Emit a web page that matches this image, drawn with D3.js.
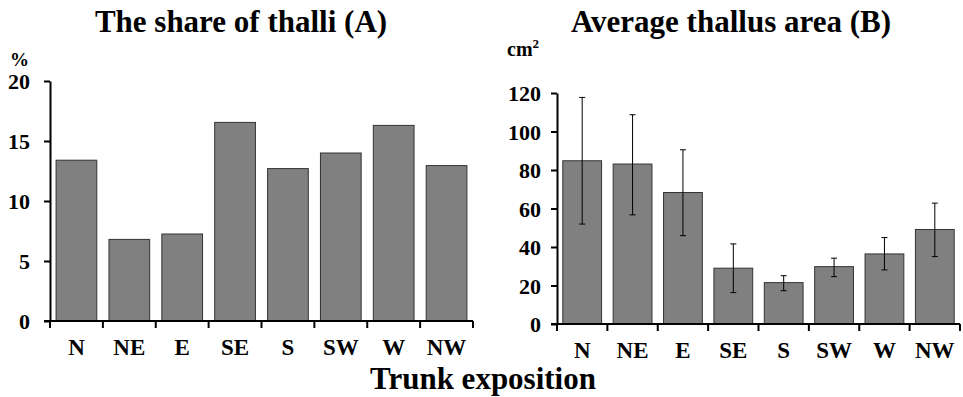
<!DOCTYPE html>
<html lang="en">
<head>
    <meta charset="UTF-8">
    <title>Trunk exposition</title>
    <script src="https://d3js.org/d3.v7.min.js"></script>
    <style>
        body {
            margin: 0;
            background: #fff;
        }
        .bar {
            fill: #808080;
            stroke: #333;
            stroke-width: 1;
        }
    </style>
</head>
<body>
<svg id="chart" width="963" height="397"></svg>

<script>
    const directions = ["N", "NE", "E", "SE", "S", "SW", "W", "NW"];
    const shareValues = [13.4, 6.8, 7.25, 16.55, 12.7, 14.0, 16.3, 12.95];
    const areaValues = [84.8, 83.1, 68.3, 29.0, 21.5, 29.8, 36.4, 49.1];
    const areaUpper = [117.7, 108.7, 90.5, 41.6, 25.1, 34.2, 44.9, 62.8];
    const areaLower = [51.9, 56.7, 45.9, 16.3, 17.3, 24.6, 28.1, 35.0];
    const shareTicks = [0, 5, 10, 15, 20];
    const areaTicks = [0, 20, 40, 60, 80, 100, 120];

    const FONT = "'Liberation Serif', 'DejaVu Serif', serif";

    const svg = d3.select("#chart");

    function drawPanel(opts) {
        const x = d3.scaleBand()
            .domain(directions)
            .range([opts.left, opts.right]);
        const y = d3.scaleLinear()
            .domain([0, opts.max])
            .range([opts.bottom, opts.top]);

        const g = svg.append("g");
        const barW = x.bandwidth() * 0.77;

        g.selectAll(".bar")
            .data(opts.values)
            .enter()
            .append("rect")
            .attr("class", "bar")
            .attr("x", (d, i) => x(directions[i]) + (x.bandwidth() - barW) / 2)
            .attr("y", d => y(d))
            .attr("width", barW)
            .attr("height", d => y(0) - y(d));

        if (opts.upper) {
            opts.values.forEach((v, i) => {
                const cx = x(directions[i]) + x.bandwidth() / 2;
                g.append("line")
                    .attr("x1", cx).attr("x2", cx)
                    .attr("y1", y(opts.upper[i])).attr("y2", y(opts.lower[i]))
                    .attr("stroke", "#000").attr("stroke-width", 1);
                [opts.upper[i], opts.lower[i]].forEach(e => {
                    g.append("line")
                        .attr("x1", cx - 3).attr("x2", cx + 3)
                        .attr("y1", y(e)).attr("y2", y(e))
                        .attr("stroke", "#000").attr("stroke-width", 1);
                });
            });
        }

        // y axis
        const yAxis = g.append("g")
            .attr("transform", `translate(${opts.left},0)`)
            .call(d3.axisLeft(y).tickValues(opts.ticks).tickSize(6).tickPadding(opts.tickPad).tickSizeOuter(0));
        yAxis.attr("font-family", FONT).attr("font-weight", "bold").attr("font-size", 22);
        yAxis.select(".domain").attr("stroke-width", 2);
        yAxis.selectAll(".tick line").attr("stroke-width", 2);
        yAxis.selectAll("text").attr("dy", "0.35em");

        // x axis
        const xAxis = g.append("g")
            .attr("transform", `translate(0,${opts.bottom})`)
            .call(d3.axisBottom(x).tickSize(0).tickPadding(18));
        xAxis.attr("font-family", FONT).attr("font-weight", "bold").attr("font-size", 23);
        xAxis.select(".domain").remove();

        g.append("line")
            .attr("x1", opts.left - 6).attr("x2", opts.right)
            .attr("y1", opts.bottom).attr("y2", opts.bottom)
            .attr("stroke", "#000").attr("stroke-width", 2);

        const bounds = directions.map(d => x(d)).concat([opts.right]);
        g.selectAll(".xtick")
            .data(bounds)
            .enter()
            .append("line")
            .attr("x1", d => d).attr("x2", d => d)
            .attr("y1", opts.bottom).attr("y2", opts.bottom + 7)
            .attr("stroke", "#000").attr("stroke-width", 2);

        svg.append("text")
            .attr("x", opts.titleX)
            .attr("y", 32)
            .attr("text-anchor", "middle")
            .attr("font-family", FONT)
            .attr("font-weight", "bold")
            .attr("font-size", 31)
            .text(opts.title);

        return g;
    }

    drawPanel({
        left: 50, right: 473, top: 81, bottom: 321, max: 20,
        values: shareValues, ticks: shareTicks, tickPad: 14,
        title: "The share of thalli (A)", titleX: 241
    });

    drawPanel({
        left: 557, right: 960, top: 93, bottom: 324, max: 120,
        values: areaValues, upper: areaUpper, lower: areaLower,
        ticks: areaTicks, tickPad: 10,
        title: "Average thallus area (B)", titleX: 731
    });

    svg.append("text")
        .attr("x", 10)
        .attr("y", 66)
        .attr("font-family", FONT)
        .attr("font-weight", "bold")
        .attr("font-size", 19)
        .text("%");

    const cm = svg.append("text")
        .attr("x", 507)
        .attr("y", 56)
        .attr("font-family", FONT)
        .attr("font-weight", "bold")
        .attr("font-size", 20)
        .text("cm");
    cm.append("tspan")
        .attr("dy", -8)
        .attr("font-size", 13)
        .text("2");

    svg.append("text")
        .attr("x", 483)
        .attr("y", 389)
        .attr("text-anchor", "middle")
        .attr("font-family", FONT)
        .attr("font-weight", "bold")
        .attr("font-size", 31)
        .text("Trunk exposition");
</script>
</body>
</html>
